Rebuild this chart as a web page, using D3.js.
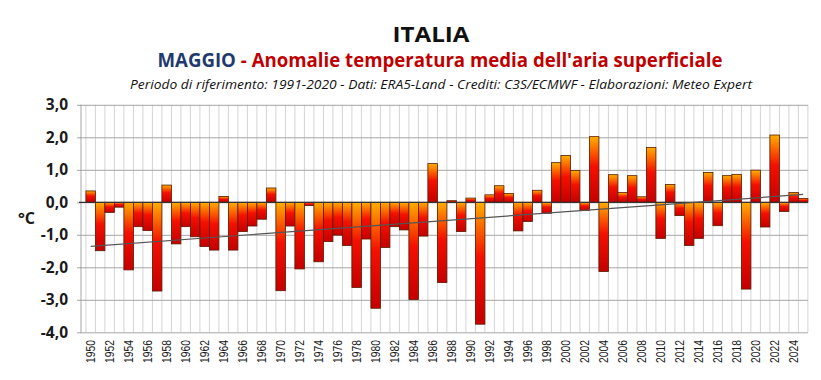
<!DOCTYPE html>
<html>
<head>
<meta charset="utf-8">
<script src="https://cdn.jsdelivr.net/npm/d3@7.9.0/dist/d3.min.js"></script>
<style>
  body { margin: 0; background: #fff; }
  svg { display: block; font-family: "Open Sans", sans-serif; }
</style>
</head>
<body>
<div id="chart"></div>
<script>
// May anomalies (°C) vs 1991-2020, one per year
const years = [
  1950, 1951, 1952, 1953, 1954, 1955, 1956, 1957, 1958, 1959,
  1960, 1961, 1962, 1963, 1964, 1965, 1966, 1967, 1968, 1969,
  1970, 1971, 1972, 1973, 1974, 1975, 1976, 1977, 1978, 1979,
  1980, 1981, 1982, 1983, 1984, 1985, 1986, 1987, 1988, 1989,
  1990, 1991, 1992, 1993, 1994, 1995, 1996, 1997, 1998, 1999,
  2000, 2001, 2002, 2003, 2004, 2005, 2006, 2007, 2008, 2009,
  2010, 2011, 2012, 2013, 2014, 2015, 2016, 2017, 2018, 2019,
  2020, 2021, 2022, 2023, 2024, 2025,
];
const anomalies = [
  0.35, -1.49, -0.31, -0.15, -2.08, -0.75, -0.87, -2.73, 0.53, -1.28,
  -0.75, -1.06, -1.36, -1.47, 0.18, -1.47, -0.90, -0.73, -0.52, 0.44,
  -2.72, -0.73, -2.05, -0.10, -1.83, -1.21, -1.01, -1.33, -2.62, -1.13,
  -3.26, -1.39, -0.75, -0.85, -2.99, -1.04, 1.19, -2.47, 0.05, -0.90,
  0.13, -3.75, 0.23, 0.51, 0.27, -0.88, -0.59, 0.37, -0.34, 1.22,
  1.44, 0.98, -0.25, 2.02, -2.13, 0.85, 0.30, 0.82, 0.17, 1.69,
  -1.11, 0.55, -0.41, -1.33, -1.11, 0.92, -0.72, 0.82, 0.86, -2.67,
  0.99, -0.76, 2.07, -0.28, 0.30, 0.12,
];
const yTicks = [3, 2, 1, 0, -1, -2, -3, -4];
const xLabelYears = years.filter((y) => y % 2 === 0);

const width = 821;
const height = 380;

const data = years.map((year, i) => ({ year, value: anomalies[i] }));

const svg = d3
  .select("#chart")
  .append("svg")
  .attr("width", width)
  .attr("height", height);

const xScale = d3.scaleBand().domain(years).range([85.9, 807.9]).padding(0);
const yScale = d3.scaleLinear().domain([-4, 3]).range([332.3, 104.8]);

// bar gradient: orange at top, dark red at bottom
const grad = svg
  .append("defs")
  .append("linearGradient")
  .attr("id", "barGrad")
  .attr("x1", 0).attr("y1", 0).attr("x2", 0).attr("y2", 1);
grad.append("stop").attr("offset", "0%").attr("stop-color", "#ffae00");
grad.append("stop").attr("offset", "45%").attr("stop-color", "#f51000");
grad.append("stop").attr("offset", "100%").attr("stop-color", "#c40000");

// vertical gridlines between categories
svg
  .append("g")
  .selectAll("line")
  .data(years.concat(["end"]))
  .join("line")
  .attr("x1", (d) => (d === "end" ? xScale.range()[1] : xScale(d)))
  .attr("x2", (d) => (d === "end" ? xScale.range()[1] : xScale(d)))
  .attr("y1", yScale(3))
  .attr("y2", yScale(-4))
  .attr("stroke", "#d4d4d4")
  .attr("stroke-width", 1);

// horizontal gridlines
svg
  .append("g")
  .call(d3.axisLeft(yScale).tickValues(yTicks).tickFormat("").tickSize(-(xScale.range()[1] - 80)))
  .attr("transform", "translate(80,0)")
  .call((g) => g.select(".domain").remove())
  .call((g) => g.selectAll("line").attr("stroke", "#a6a6a6"));

// left axis line with small ticks
svg
  .append("line")
  .attr("x1", 81).attr("x2", 81)
  .attr("y1", yScale(3)).attr("y2", yScale(-4))
  .attr("stroke", "#a6a6a6");

const yAxis = svg
  .append("g")
  .attr("transform", "translate(81,0)")
  .call(
    d3.axisLeft(yScale)
      .tickValues(yTicks)
      .tickSize(4)
      .tickPadding(9)
      .tickFormat((d) => d3.format(".1f")(d).replace(".", ",").replace("−", "-"))
  );
yAxis.select(".domain").remove();
yAxis.selectAll("line").attr("stroke", "#a6a6a6");
yAxis
  .selectAll("text")
  .attr("font-family", "'Open Sans', sans-serif")
  .attr("font-size", 15.5)
  .attr("font-weight", "bold")
  .attr("fill", "#1a1a1a");

// bars
svg
  .append("g")
  .selectAll("rect")
  .data(data)
  .join("rect")
  .attr("x", (d) => xScale(d.year))
  .attr("width", xScale.bandwidth())
  .attr("y", (d) => yScale(Math.max(0, d.value)))
  .attr("height", (d) => Math.abs(yScale(d.value) - yScale(0)))
  .attr("fill", "url(#barGrad)")
  .attr("stroke", "#5a1a00")
  .attr("stroke-width", 0.8);

// zero line
svg
  .append("line")
  .attr("x1", 79).attr("x2", xScale.range()[1])
  .attr("y1", yScale(0)).attr("y2", yScale(0))
  .attr("stroke", "#333")
  .attr("stroke-width", 1.2);

// linear trend
const xs = data.map((d) => d.year);
const ys = data.map((d) => d.value);
const mx = d3.mean(xs);
const my = d3.mean(ys);
const slope =
  d3.sum(xs, (x, i) => (x - mx) * (ys[i] - my)) / d3.sum(xs, (x) => (x - mx) ** 2);
const trend = (x) => my + slope * (x - mx);
const first = years[0];
const last = years[years.length - 1];
svg
  .append("line")
  .attr("x1", xScale(first) + xScale.bandwidth() / 2)
  .attr("x2", xScale(last) + xScale.bandwidth() / 2)
  .attr("y1", yScale(trend(first)))
  .attr("y2", yScale(trend(last)))
  .attr("stroke", "#555")
  .attr("stroke-width", 1.2);

// x labels (every second year), rotated
svg
  .append("g")
  .selectAll("text")
  .data(xLabelYears)
  .join("text")
  .attr("transform", (d) => `translate(${xScale(d) + xScale.bandwidth() / 2 + 4.5},340) rotate(-90)`)
  .attr("text-anchor", "end")
  .attr("font-family", "'Liberation Sans', Arial, sans-serif")
  .attr("font-size", 12.5)
  .attr("textLength", 23)
  .attr("lengthAdjust", "spacingAndGlyphs")
  .attr("fill", "#1a1a1a")
  .text((d) => d);

// unit label
svg
  .append("text")
  .attr("x", 18)
  .attr("y", 224)
  .attr("font-size", 16)
  .attr("font-weight", "bold")
  .attr("fill", "#1a1a1a")
  .text("°C");

// titles
svg
  .append("text")
  .attr("x", 431)
  .attr("y", 42)
  .attr("text-anchor", "middle")
  .attr("font-size", 22)
  .attr("font-weight", "bold")
  .attr("fill", "#111")
  .attr("textLength", 77)
  .attr("lengthAdjust", "spacingAndGlyphs")
  .text("ITALIA");

const t2 = svg
  .append("text")
  .attr("x", 440)
  .attr("y", 67)
  .attr("text-anchor", "middle")
  .attr("font-size", 20)
  .attr("font-weight", "bold")
  .attr("textLength", 565)
  .attr("lengthAdjust", "spacingAndGlyphs");
t2.append("tspan").attr("fill", "#1f3a6e").text("MAGGIO");
t2.append("tspan").attr("fill", "#c00000").text(" - Anomalie temperatura media dell'aria superficiale");

svg
  .append("text")
  .attr("x", 441)
  .attr("y", 89)
  .attr("text-anchor", "middle")
  .attr("font-size", 13.5)
  .attr("font-style", "italic")
  .attr("fill", "#111")
  .attr("textLength", 622)
  .attr("lengthAdjust", "spacingAndGlyphs")
  .text("Periodo di riferimento: 1991-2020 - Dati: ERA5-Land - Crediti: C3S/ECMWF - Elaborazioni: Meteo Expert");
</script>
</body>
</html>
